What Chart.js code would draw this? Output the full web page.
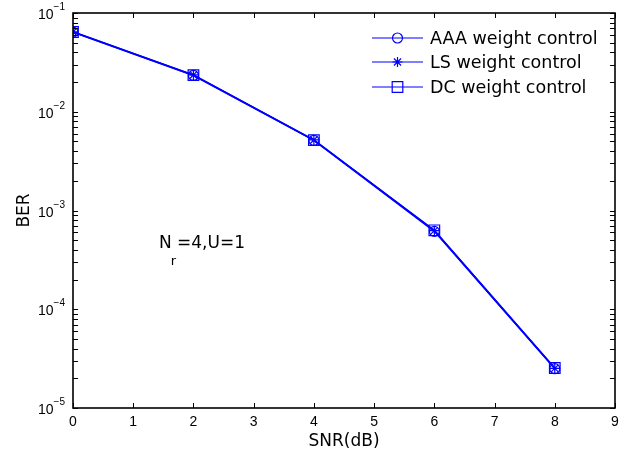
<!DOCTYPE html>
<html>
<head>
<meta charset="utf-8">
<script src="https://cdn.jsdelivr.net/npm/chart.js@4.4.1/dist/chart.umd.min.js"></script>
<style>
  html, body { margin: 0; padding: 0; background: #fff; }
  #wrap { width: 632px; height: 462px; }
</style>
</head>
<body>
<div id="wrap"><canvas id="berChart" width="632" height="462"></canvas></div>
<script>
// SNR points (dB) and BER per weight control scheme
const snr = [0, 2, 4, 6, 8];
const berAAA = [0.0640, 0.0233, 0.00512, 0.000615, 0.0000250];
const berLS  = [0.0645, 0.0236, 0.00518, 0.000625, 0.0000252];
const berDC  = [0.0642, 0.0235, 0.00516, 0.000630, 0.0000254];
const seriesNames = ['AAA weight control', 'LS weight control', 'DC weight control'];
const xTicks = [0, 1, 2, 3, 4, 5, 6, 7, 8, 9];
const yDecades = [-1, -2, -3, -4, -5];

const BLUE = '#0000ff';
const TICKFONT = '"Liberation Sans", Arial, sans-serif';
const TEXTFONT = '"DejaVu Sans", sans-serif';

function toPoints(ys) {
    return snr.map((x, i) => ({ x: x, y: ys[i] }));
}

// Box, inward ticks, y labels, legend and note
const matlabAxes = {
    id: 'matlabAxes',
    afterDraw(chart) {
        const ctx = chart.ctx;
        const a = chart.chartArea;
        const xs = chart.scales.x;
        const ys = chart.scales.y;
        const tl = 5;
        ctx.save();
        ctx.strokeStyle = '#000';
        ctx.lineWidth = 1;
        ctx.beginPath();
        // x ticks top and bottom
        xTicks.forEach(v => {
            const px = Math.round(xs.getPixelForValue(v)) + 0.5;
            ctx.moveTo(px, a.bottom); ctx.lineTo(px, a.bottom - tl);
            ctx.moveTo(px, a.top); ctx.lineTo(px, a.top + tl);
        });
        // y ticks, decades + minor
        for (let e = -5; e <= -1; e++) {
            for (let m = 1; m <= 9; m++) {
                const v = m * Math.pow(10, e);
                if (v > 0.1 + 1e-12) break;
                const py = Math.round(ys.getPixelForValue(v)) + 0.5;
                ctx.moveTo(a.left, py); ctx.lineTo(a.left + tl, py);
                ctx.moveTo(a.right, py); ctx.lineTo(a.right - tl, py);
            }
        }
        ctx.stroke();
        // box
        ctx.lineWidth = 1.6;
        ctx.strokeRect(a.left, a.top, a.right - a.left, a.bottom - a.top);

        // y tick labels 10^n
        ctx.fillStyle = '#000';
        ctx.textBaseline = 'alphabetic';
        ctx.textAlign = 'left';
        yDecades.forEach(e => {
            const py = ys.getPixelForValue(Math.pow(10, e));
            const sup = '\u2212' + String(-e);
            ctx.font = '10px ' + TICKFONT;
            const supW = ctx.measureText(sup).width;
            ctx.font = '14px ' + TICKFONT;
            const baseW = ctx.measureText('10').width;
            const right = a.left - 8;
            ctx.fillText('10', right - supW - baseW, py + 6);
            ctx.font = '10px ' + TICKFONT;
            ctx.fillText(sup, right - supW, py - 3);
        });

        // legend: line + marker + text
        const rows = [25, 49, 74];
        chart.data.datasets.forEach((ds, i) => {
            const y = a.top + rows[i];
            const x0 = a.right - 243, x1 = a.right - 192;
            ctx.strokeStyle = BLUE;
            ctx.fillStyle = 'rgba(0,0,0,0)';
            ctx.lineWidth = 1.2;
            ctx.beginPath();
            ctx.moveTo(x0, y); ctx.lineTo(x1, y);
            ctx.stroke();
            Chart.helpers.drawPoint(ctx, {
                pointStyle: ds.pointStyle,
                radius: ds.pointRadius,
                borderWidth: 1.2
            }, (x0 + x1) / 2, y);
            ctx.fillStyle = '#000';
            ctx.font = '17.5px ' + TEXTFONT;
            ctx.textAlign = 'left';
            ctx.textBaseline = 'middle';
            ctx.fillText(seriesNames[i], a.right - 185, y + 1);
        });

        // note N_r=4,U=1
        ctx.fillStyle = '#000';
        ctx.textBaseline = 'alphabetic';
        ctx.textAlign = 'left';
        ctx.font = '17px ' + TEXTFONT;
        ctx.fillText('N', 159, 248);
        const nW = ctx.measureText('N').width;
        ctx.font = '13px ' + TEXTFONT;
        ctx.fillText('r', 159 + nW - 1, 265);
        const rW = ctx.measureText('r').width;
        ctx.font = '17px ' + TEXTFONT;
        ctx.fillText('=4,U=1', 159 + nW + rW, 248);
        ctx.restore();
    }
};

function makeSet(label, ys, style, radius) {
    return {
        label: label,
        data: toPoints(ys),
        borderColor: BLUE,
        backgroundColor: 'rgba(0,0,0,0)',
        borderWidth: 1.5,
        pointStyle: style,
        pointRadius: radius,
        pointBorderColor: BLUE,
        pointBackgroundColor: 'rgba(0,0,0,0)',
        pointBorderWidth: 1.2,
        tension: 0
    };
}

new Chart(document.getElementById('berChart').getContext('2d'), {
    type: 'line',
    data: {
        datasets: [
            makeSet(seriesNames[0], berAAA, 'circle', 5),
            makeSet(seriesNames[1], berLS, 'star', 5),
            makeSet(seriesNames[2], berDC, 'rect', 7.5)
        ]
    },
    options: {
        responsive: false,
        animation: false,
        layout: { padding: { left: 0, right: 17, top: 13, bottom: 0 } },
        plugins: {
            legend: { display: false },
            tooltip: { enabled: false }
        },
        scales: {
            x: {
                type: 'linear',
                min: 0,
                max: 9,
                afterBuildTicks(scale) {
                    scale.ticks = xTicks.map(v => ({ value: v }));
                },
                afterFit(scale) { scale.height = 54; },
                grid: { display: false, drawTicks: false },
                border: { display: false },
                ticks: {
                    color: '#000',
                    font: { family: TICKFONT, size: 14 },
                    padding: 6,
                    maxRotation: 0
                },
                title: {
                    display: true,
                    text: 'SNR(dB)',
                    color: '#000',
                    font: { family: TEXTFONT, size: 17 },
                    padding: { top: 0, bottom: 10 }
                }
            },
            y: {
                type: 'logarithmic',
                min: 1e-5,
                max: 1e-1,
                afterFit(scale) { scale.width = 73; },
                grid: { display: false, drawTicks: false },
                border: { display: false },
                ticks: { display: false },
                title: {
                    display: true,
                    text: 'BER',
                    color: '#000',
                    font: { family: TEXTFONT, size: 17 },
                    padding: { top: 14, bottom: 0 }
                }
            }
        }
    },
    plugins: [matlabAxes]
});
</script>
</body>
</html>
